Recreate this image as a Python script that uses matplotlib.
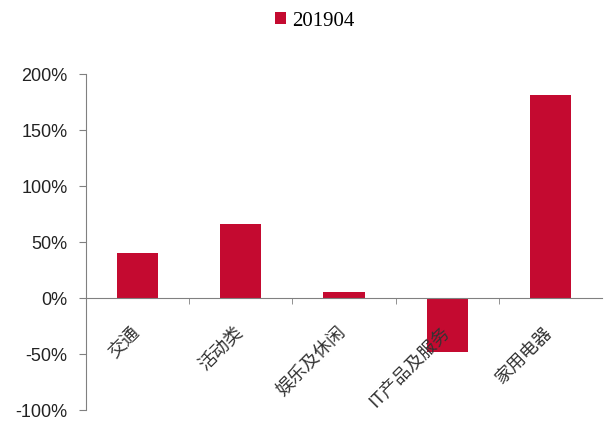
import matplotlib.pyplot as plt
from matplotlib.ticker import FuncFormatter, FixedLocator

# data
categories = ["交通", "活动类", "娱乐及休闲", "IT产品及服务", "家用电器"]
values_201904 = [40, 66, 5, -48, 181]
series_name = "201904"

plt.rcParams['font.family'] = ['Noto Sans CJK SC', 'DejaVu Sans']

fig = plt.figure(figsize=(6.04, 4.21), dpi=100)
ax = fig.add_axes([0.142, 0.026, 0.855, 0.798])

x = list(range(len(categories)))
ax.bar(x, values_201904, width=0.4, color="#C40A30", label=series_name, zorder=2)

ax.set_xlim(-0.5, len(categories) - 0.5)
ax.set_ylim(-100, 200)
ax.set_yticks([-100, -50, 0, 50, 100, 150, 200])
ax.yaxis.set_major_formatter(FuncFormatter(lambda v, p: f"{v:.0f}%"))
for lab in ax.get_yticklabels():
    lab.set_fontfamily("Liberation Sans")
    lab.set_fontsize(13)
    lab.set_color("#222222")

# spines
for s in ["top", "right"]:
    ax.spines[s].set_visible(False)
ax.spines["left"].set_color("#808080")
ax.spines["bottom"].set_color("#808080")
ax.spines["bottom"].set_position(("data", 0))
ax.tick_params(axis="y", direction="out", length=5, color="#808080", pad=8)

# x ticks on the category boundaries, labels under the zero line
ax.set_xticks([])
ax.xaxis.set_minor_locator(FixedLocator([0.5, 1.5, 2.5, 3.5]))
ax.tick_params(axis="x", which="minor", direction="out", length=4, color="#808080")
for i, c in enumerate(categories):
    ax.annotate(c, xy=(i - 0.07, 0), xytext=(0, -18), textcoords="offset points",
                rotation=45, ha="right", va="top", rotation_mode="anchor",
                fontsize=13, color="#333333", zorder=3)

fig.legend(loc="center", bbox_to_anchor=(0.521, 0.95), frameon=False,
           handlelength=0.55, handleheight=0.55, handletextpad=0.3,
           prop={"family": "Liberation Serif", "size": 15})

fig.savefig("out.png", dpi=100)
